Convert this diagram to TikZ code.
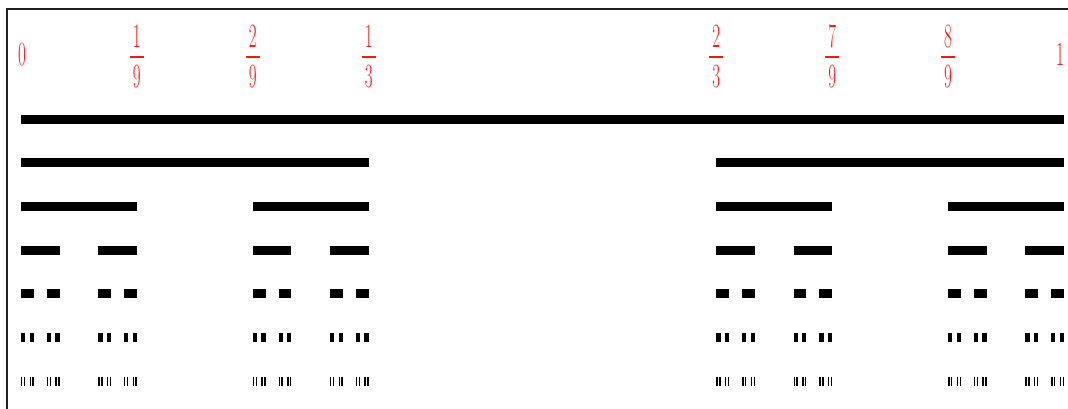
\documentclass[tikz,border=0pt]{standalone}
\usepackage{fontspec}
\setmainfont{Latin Modern Roman}
\definecolor{lblred}{RGB}{255,20,20}
\definecolor{framegray}{RGB}{30,30,30}
\tikzset{
  lbl/.style={text=lblred, font=\fontsize{34}{34}\selectfont, inner sep=0pt, xscale=0.5, transform shape},
  fracbar/.style={draw=lblred, line width=1.6pt},
  framerule/.style={draw=framegray, line width=2pt},
  seg/.style={fill=black}
}
\newcommand\cantordraw[3]{%
  \fill[seg] (#1,{119+43.7*#3-4.5}) rectangle ({#1+#2},{119+43.7*#3+4.5});%
  \ifnum#3<6
    \pgfmathsetmacro\cnlen{#2/3}%
    \pgfmathsetmacro\cnright{#1+2*#2/3}%
    \edef\cnnext{\noexpand\cantordraw{#1}{\cnlen}{\the\numexpr#3+1\relax}\noexpand\cantordraw{\cnright}{\cnlen}{\the\numexpr#3+1\relax}}%
    \cnnext
  \fi}
\begin{document}
\begin{tikzpicture}[x=1pt,y=-1pt]
\useasboundingbox (0,0) rectangle (1068,408);
\draw[framerule] (7,410) -- (7,9) -- (1070,9);
% labels
\node[lbl] (z) at (22,55) {0};
\node[lbl] (o) at (1060,54) {1};
\foreach \nm/\x/\n/\d in {a/136.9/1/9, b/252.8/2/9, c/368.7/1/3, d/716.3/2/3, e/832.2/7/9, f/948.1/8/9}{
  \node[lbl] (\nm num) at (\x,36.5) {\n};
  \node[lbl] (\nm den) at (\x,76.5) {\d};
  \draw[fracbar] (\x-7,57) -- (\x+7,57);
}
% Cantor set
\cantordraw{21}{1043}{0}
\end{tikzpicture}
\end{document}
